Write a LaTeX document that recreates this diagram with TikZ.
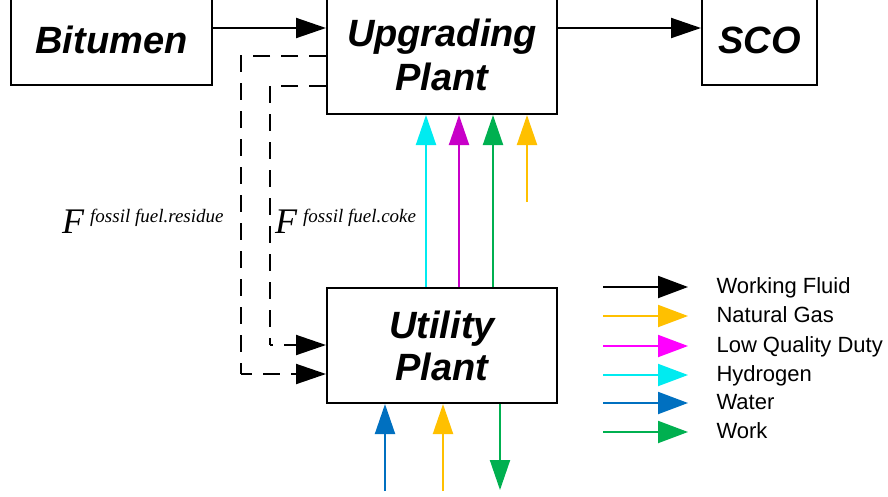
\documentclass[tikz,border=0pt]{standalone}
\usepackage{fontspec}
\setmainfont{Liberation Sans}
\newfontfamily\tnr{Liberation Serif}
\usetikzlibrary{arrows.meta}
\definecolor{cy}{RGB}{0,235,240}
\definecolor{mg}{RGB}{200,0,200}
\definecolor{mgl}{RGB}{255,0,255}
\definecolor{gr}{RGB}{0,176,80}
\definecolor{og}{RGB}{255,192,0}
\definecolor{bl}{RGB}{0,112,192}
\tikzset{
  box/.style={draw=black, line width=2pt, inner sep=0pt, align=center,
    font=\fontsize{38}{44}\selectfont\bfseries\itshape},
  arr/.style={line width=2pt, -{Triangle[length=30pt,width=20pt]}},
  dsh/.style={line width=2pt, dash pattern=on 17pt off 11pt},
  leg/.style={anchor=base west, font=\fontsize{22}{22}\selectfont},
  flab/.style={anchor=base west, inner sep=0pt},
}
\newcommand{\flabel}[1]{{\tnr\itshape\fontsize{36}{36}\selectfont F\,\raisebox{11pt}{\fontsize{19}{19}\selectfont #1}}}
\begin{document}
\begin{tikzpicture}[x=1pt,y=-1pt]
\useasboundingbox (0,0) rectangle (888,496);
\clip (0,0) rectangle (888,496);
% boxes
\node[box, minimum width=201pt, minimum height=90pt] (bit) at (111.5,40) {Bitumen};
\node[box, minimum width=230pt, minimum height=118pt] (upg) at (442,55) {Upgrading\\Plant};
\node[box, minimum width=115pt, minimum height=90pt] (sco) at (759.5,40) {SCO};
\node[box, minimum width=230pt, minimum height=115pt] (utl) at (442,345.5) {Utility\\[-2pt]Plant};
% main flow
\draw[arr] (bit.east |- 0,28) -- (upg.west |- 0,28);
\draw[arr] (upg.east |- 0,28) -- (sco.west |- 0,28);
% dashed fuel lines
\draw[dsh] (upg.west |- 0,56) -| (241,374);
\draw[arr, dash pattern=on 17pt off 11pt, dash phase=6pt] (241,374) -- (utl.west |- 0,374);
\draw[dsh] (upg.west |- 0,86) -| (270,345);
\draw[arr, dash pattern=on 17pt off 11pt, dash phase=14pt] (270,345) -- (utl.west |- 0,345);
% labels
\node[flab] (lres) at (62,233) {\flabel{fossil fuel.residue}};
\node[flab] (lcoke) at (275,233) {\flabel{fossil fuel.coke}};
% utility -> upgrading
\draw[arr, cy] (utl.north -| 426,0) -- (upg.south -| 426,0);
\draw[arr, mg] (utl.north -| 459,0) -- (upg.south -| 459,0);
\draw[arr, gr] (utl.north -| 493,0) -- (upg.south -| 493,0);
\coordinate (ngin) at (527,202);
\draw[arr, og] (ngin) -- (upg.south -| 527,0);
% bottom
\coordinate (wat) at (385,491);
\coordinate (ngb) at (443,491);
\coordinate (wko) at (500,490);
\draw[arr, bl] (wat) -- (utl.south -| 385,0);
\draw[arr, og] (ngb) -- (utl.south -| 443,0);
\draw[arr, gr] (utl.south -| 500,0) -- (wko);
% legend
\foreach \yy/\cc/\tt [count=\i] in {287/black/Working Fluid, 316/og/Natural Gas, 346/mgl/Low Quality Duty, 375/cy/Hydrogen, 403/bl/Water, 432/gr/Work}{
  \coordinate (ls\i) at (603,\yy);
  \coordinate (le\i) at (688,\yy);
  \draw[arr, \cc, -{Triangle[length=30pt,width=22pt]}] (ls\i) -- (le\i);
  \node[leg] (lt\i) at (713,\yy+6) {\tt};
}
\end{tikzpicture}
\end{document}
